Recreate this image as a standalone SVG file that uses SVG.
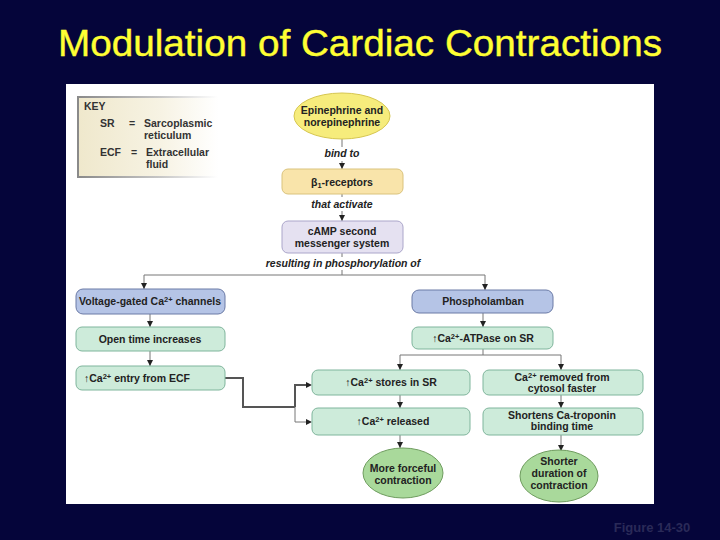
<svg xmlns="http://www.w3.org/2000/svg" width="720" height="540" viewBox="0 0 720 540">
<defs>
<linearGradient id="keyg" x1="0" y1="0" x2="1" y2="0">
<stop offset="0" stop-color="#EFE8CC"/><stop offset="0.6" stop-color="#F7F3E4"/><stop offset="1" stop-color="#FFFFFF"/>
</linearGradient>
<linearGradient id="keys" x1="0" y1="0" x2="1" y2="0">
<stop offset="0" stop-color="#8A8A8A"/><stop offset="0.6" stop-color="#C8C8C8"/><stop offset="1" stop-color="#FFFFFF"/>
</linearGradient>
<marker id="ah" viewBox="0 0 6 6" refX="6" refY="3" markerWidth="6" markerHeight="6" markerUnits="userSpaceOnUse" orient="auto">
<path d="M0,0 L6,3 L0,6 Z" fill="#222"/>
</marker>
<style>
.t{font-family:"Liberation Sans",Arial,sans-serif;font-weight:bold;font-size:10.5px;fill:#222;text-anchor:middle}
.i{font-style:italic}
.k{font-family:"Liberation Sans",Arial,sans-serif;font-weight:bold;font-size:10.5px;fill:#333}
.c{fill:none;stroke:#777;stroke-width:1}
.ca{fill:none;stroke:#777;stroke-width:1;marker-end:url(#ah)}
.thick{fill:none;stroke:#555;stroke-width:2}
.blue{fill:#B5C4E6;stroke:#6A7AA6;stroke-width:1}
.green{fill:#CDEBDA;stroke:#7FB59C;stroke-width:1}
.oval{fill:#A9D99B;stroke:#6E9C5E;stroke-width:1}
.sup{font-size:7.5px}
</style>
</defs>
<rect x="0" y="0" width="720" height="540" fill="#05053A"/>
<text x="360" y="56" font-family="'Liberation Sans',Arial,sans-serif" font-size="36" fill="#FFFF33" stroke="#FFFF33" stroke-width="0.4" text-anchor="middle" textLength="604" lengthAdjust="spacingAndGlyphs">Modulation of Cardiac Contractions</text>
<rect x="66" y="84" width="588" height="420" fill="#FFFFFF"/>

<g id="key">
<rect x="78" y="97" width="140" height="80" fill="url(#keyg)" stroke="url(#keys)" stroke-width="2"/>
<text class="k" x="84" y="110">KEY</text>
<text class="k" x="100" y="127">SR</text>
<text class="k" x="129" y="127">=</text>
<text class="k" x="144" y="127">Sarcoplasmic</text>
<text class="k" x="144" y="139">reticulum</text>
<text class="k" x="100" y="156">ECF</text>
<text class="k" x="131" y="156">=</text>
<text class="k" x="146" y="156">Extracellular</text>
<text class="k" x="146" y="168">fluid</text>
</g>

<g id="connectors">
<path class="c" d="M342,139 V147"/>
<path class="ca" d="M342,161 V169"/>
<path class="c" d="M342,194 V197"/>
<path class="ca" d="M342,211 V221"/>
<path class="c" d="M342,253 V257"/>
<path class="c" d="M342,270 V275"/>
<path class="c" d="M144,275 H485"/>
<path class="ca" d="M144,275 V289"/>
<path class="ca" d="M485,275 V290"/>
<path class="ca" d="M150,314 V327"/>
<path class="ca" d="M150,351 V366"/>
<path class="ca" d="M483,313 V327"/>
<path class="c" d="M483,349 V355"/>
<path class="c" d="M400,355 H561"/>
<path class="ca" d="M400,355 V370"/>
<path class="ca" d="M561,355 V370"/>
<path class="ca" d="M400,395 V408"/>
<path class="ca" d="M561,395 V408"/>
<path class="ca" d="M400,435 V448"/>
<path class="ca" d="M561,435 V451"/>
<path class="thick" d="M225,378 H243 V407 H295"/>
<path class="thick" d="M295,407 V385 H306"/>
<path class="c" d="M295,407 V422 H306"/>
<path d="M306,382 L312,385 L306,388 Z" fill="#222"/>
<path d="M306,419 L312,422 L306,425 Z" fill="#222"/>
</g>

<g id="epinephrine">
<ellipse cx="342" cy="116" rx="48" ry="23" fill="#F6EC7C" stroke="#D6C650" stroke-width="1"/>
<text class="t" x="342" y="114">Epinephrine and</text>
<text class="t" x="342" y="126">norepinephrine</text>
</g>
<text class="t i" x="342" y="157">bind to</text>

<g id="beta1">
<rect x="282" y="169" width="121" height="25" rx="6" fill="#F9E4AA" stroke="#DAC37C" stroke-width="1"/>
<text class="t" x="342" y="186">β<tspan class="sup" dy="2">1</tspan><tspan dy="-2">-receptors</tspan></text>
</g>
<text class="t i" x="342" y="208">that activate</text>

<g id="camp">
<rect x="282" y="221" width="121" height="32" rx="6" fill="#E5E1F1" stroke="#ABA6CA" stroke-width="1"/>
<text class="t" x="342" y="235">cAMP second</text>
<text class="t" x="342" y="247">messenger system</text>
</g>
<text class="t i" x="343" y="267">resulting in phosphorylation of</text>

<g id="voltage">
<rect x="76" y="289" width="149" height="25" rx="7" class="blue"/>
<text class="t" x="150" y="305">Voltage-gated Ca<tspan class="sup" dy="-3">2+</tspan><tspan dy="3"> channels</tspan></text>
</g>
<g id="opentime">
<rect x="76" y="327" width="149" height="24" rx="6" class="green"/>
<text class="t" x="150" y="343">Open time increases</text>
</g>
<g id="caentry">
<rect x="76" y="366" width="149" height="24" rx="6" class="green"/>
<text class="t" x="137" y="382">↑Ca<tspan class="sup" dy="-3">2+</tspan><tspan dy="3"> entry from ECF</tspan></text>
</g>

<g id="phospholamban">
<rect x="412" y="290" width="141" height="23" rx="7" class="blue"/>
<text class="t" x="483" y="305">Phospholamban</text>
</g>
<g id="atpase">
<rect x="412" y="327" width="141" height="22" rx="6" class="green"/>
<text class="t" x="483" y="342">↑Ca<tspan class="sup" dy="-3">2+</tspan><tspan dy="3">-ATPase on SR</tspan></text>
</g>

<g id="stores">
<rect x="312" y="370" width="158" height="25" rx="6" class="green"/>
<text class="t" x="391" y="386">↑Ca<tspan class="sup" dy="-3">2+</tspan><tspan dy="3"> stores in SR</tspan></text>
</g>
<g id="released">
<rect x="312" y="408" width="158" height="27" rx="6" class="green"/>
<text class="t" x="393" y="425">↑Ca<tspan class="sup" dy="-3">2+</tspan><tspan dy="3"> released</tspan></text>
</g>
<g id="removed">
<rect x="483" y="370" width="160" height="25" rx="6" class="green"/>
<text class="t" x="562" y="381">Ca<tspan class="sup" dy="-3">2+</tspan><tspan dy="3"> removed from</tspan></text>
<text class="t" x="562" y="392">cytosol faster</text>
</g>
<g id="shortens">
<rect x="483" y="408" width="160" height="27" rx="6" class="green"/>
<text class="t" x="562" y="419">Shortens Ca-troponin</text>
<text class="t" x="562" y="430">binding time</text>
</g>

<g id="forceful">
<ellipse cx="403" cy="473" rx="40" ry="25" class="oval"/>
<text class="t" x="403" y="472">More forceful</text>
<text class="t" x="403" y="484">contraction</text>
</g>
<g id="shorter">
<ellipse cx="559" cy="476" rx="39" ry="26" class="oval"/>
<text class="t" x="559" y="465">Shorter</text>
<text class="t" x="559" y="477">duration of</text>
<text class="t" x="559" y="489">contraction</text>
</g>

<text x="652" y="532" font-family="'Liberation Sans',Arial,sans-serif" font-weight="bold" font-size="13" fill="#2A2A58" text-anchor="middle">Figure 14-30</text>
</svg>
